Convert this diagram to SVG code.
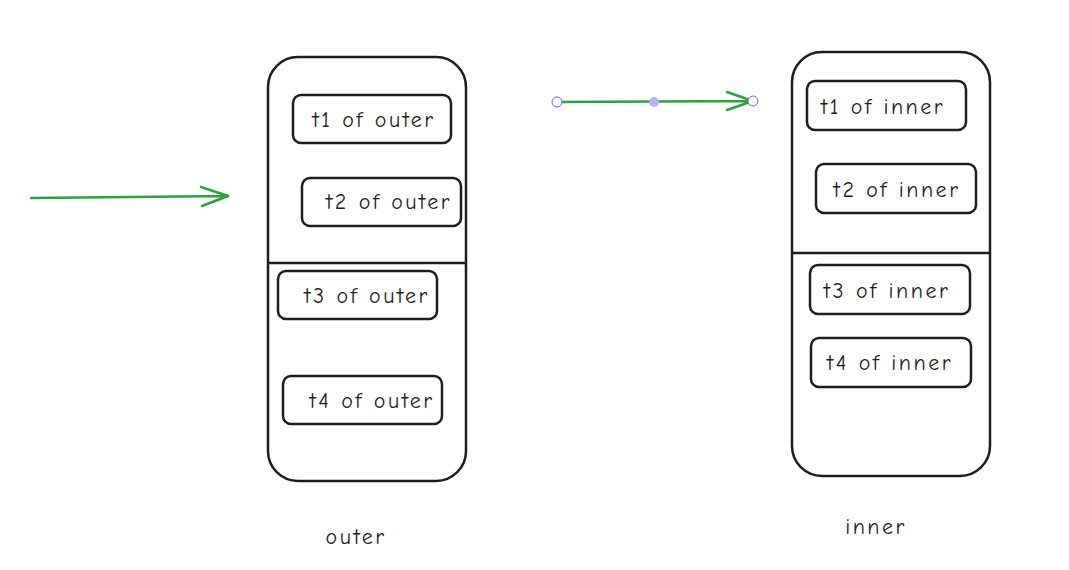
<svg xmlns="http://www.w3.org/2000/svg" width="1069" height="570" viewBox="0 0 1069 570">
<style>
.c{fill:#fff;stroke:#1e1e1e;stroke-width:2.5}
.b{fill:none;stroke:#1e1e1e;stroke-width:2.5}
.t{font-family:"Comic Neue","Liberation Sans",sans-serif;font-size:22px;fill:#1e1e1e;text-anchor:middle;dominant-baseline:central;letter-spacing:2.5px}
.a{fill:none;stroke:#2f9e44;stroke-width:2.5;stroke-linecap:round;stroke-linejoin:round}
.h{fill:#fff;stroke:#6965db;stroke-width:1}
</style>
<rect width="1069" height="570" fill="#fff"/>
<g id="outer">
<rect class="c" x="268" y="57" width="198" height="424" rx="30"/>
<line class="b" x1="268" y1="263" x2="466" y2="263"/>
<text class="t" x="356" y="537">outer</text>
</g>
<g id="t1-outer"><rect class="b" x="293" y="95" width="158" height="48" rx="8"/><text class="t" x="374" y="120">t1 of outer</text></g>
<g id="t2-outer"><rect class="b" x="302" y="178" width="159" height="48" rx="8"/><text class="t" x="389" y="202">t2 of outer</text></g>
<g id="t3-outer"><rect class="b" x="278" y="271" width="159" height="48" rx="8"/><text class="t" x="367" y="296">t3 of outer</text></g>
<g id="t4-outer"><rect class="b" x="283" y="376" width="159" height="48" rx="8"/><text class="t" x="372" y="401">t4 of outer</text></g>
<g id="inner">
<rect class="c" x="792" y="52" width="198" height="424" rx="30"/>
<line class="b" x1="792" y1="253" x2="990" y2="253"/>
<text class="t" x="876" y="527">inner</text>
</g>
<g id="t1-inner"><rect class="b" x="807" y="81" width="159" height="49" rx="8"/><text class="t" x="883" y="107">t1 of inner</text></g>
<g id="t2-inner"><rect class="b" x="816" y="164" width="160" height="49" rx="8"/><text class="t" x="897" y="190">t2 of inner</text></g>
<g id="t3-inner"><rect class="b" x="810" y="265" width="160" height="49" rx="8"/><text class="t" x="887" y="291">t3 of inner</text></g>
<g id="t4-inner"><rect class="b" x="811" y="338" width="160" height="49" rx="8"/><text class="t" x="890" y="363">t4 of inner</text></g>
<g id="connectors">
<path class="a" d="M31 198 L228 196 M201 187 L228 196 L202 206"/>
<path class="a" d="M557 102 L753 101 M727 92 L753 101 L727 110"/>
<circle class="h" cx="557" cy="102" r="5"/>
<circle cx="654" cy="102" r="5" fill="#b7b2f0"/>
<circle class="h" cx="753" cy="101" r="5"/>
</g>
</svg>
